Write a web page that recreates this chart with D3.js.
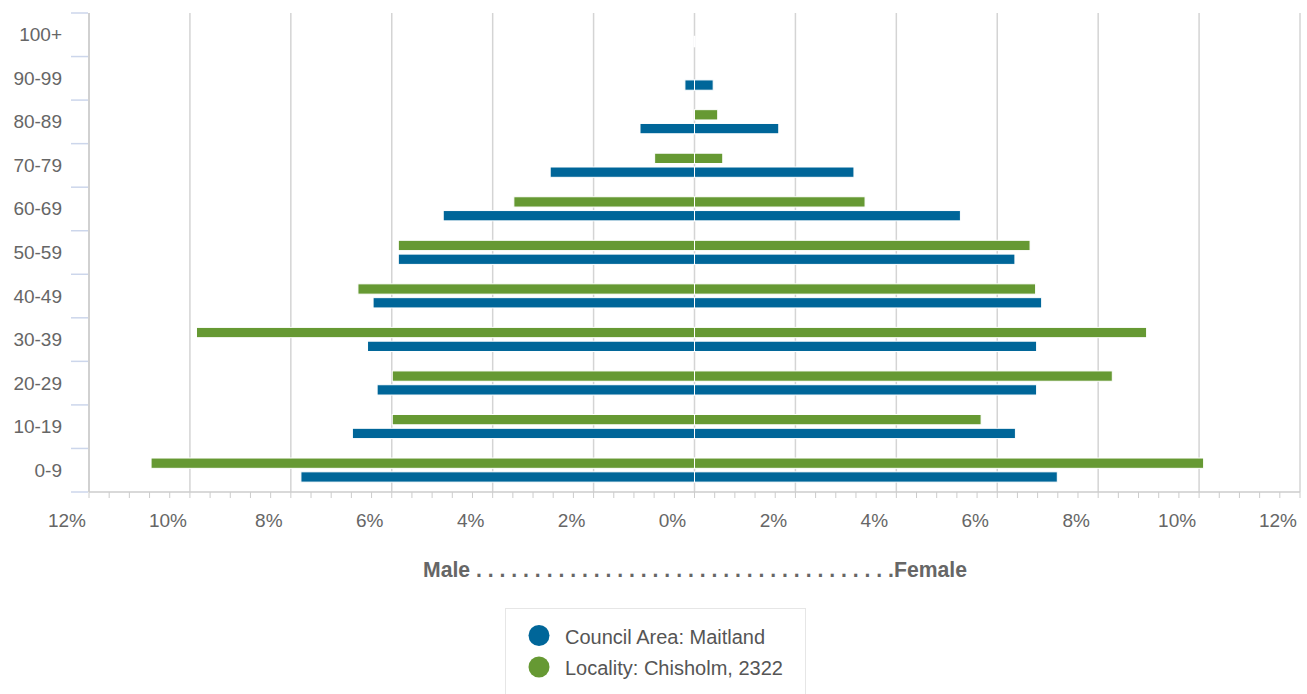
<!DOCTYPE html>
<html>
<head>
<meta charset="utf-8">
<script src="https://cdn.jsdelivr.net/npm/d3@7/dist/d3.min.js"></script>
<style>
  html, body { margin: 0; padding: 0; background: #fff; }
  svg { display: block; font-family: "Liberation Sans", Arial, Helvetica, sans-serif; }
</style>
</head>
<body>
<svg id="chart" width="1307" height="694"></svg>
<script>
// ---- data (percent of population) ----
const categories = ["0-9", "10-19", "20-29", "30-39", "40-49", "50-59", "60-69", "70-79", "80-89", "90-99", "100+"];
const maitlandMale    = [7.80, 6.78, 6.29, 6.48, 6.37, 5.87, 4.98, 2.86, 1.08, 0.19, 0.01];
const maitlandFemale  = [7.19, 6.36, 6.78, 6.78, 6.88, 6.35, 5.27, 3.16, 1.67, 0.37, 0.01];
const chisholmMale    = [10.77, 5.99, 5.99, 9.87, 6.67, 5.87, 3.58, 0.79, 0, 0, 0];
const chisholmFemale  = [10.09, 5.68, 8.28, 8.96, 6.76, 6.65, 3.38, 0.56, 0.46, 0, 0];
const xTicks = [-12, -10, -8, -6, -4, -2, 0, 2, 4, 6, 8, 10, 12];
const seriesNames = ["Council Area: Maitland", "Locality: Chisholm, 2322"];
const seriesColors = ["#006699", "#669933"];

const svg = d3.select("#chart");
const pLeft = 89, pRight = 1300, pTop = 13, pBottom = 492;

const x = d3.scaleLinear().domain([-12, 12]).range([pLeft, pRight]);
const y = d3.scaleBand().domain(categories.slice().reverse()).range([pTop, pBottom]);
const bw = y.bandwidth();

// gridlines
svg.append("g").selectAll("line").data(xTicks).join("line")
  .attr("x1", d => x(d)).attr("x2", d => x(d))
  .attr("y1", pTop).attr("y2", pBottom)
  .attr("stroke", "#d4d4d4").attr("stroke-width", 1.5);

// bottom axis line + minor ticks
const minor = d3.range(-12, 12.001, 0.4);
svg.append("g").selectAll("line").data(minor).join("line")
  .attr("x1", d => x(d)).attr("x2", d => x(d))
  .attr("y1", pBottom).attr("y2", pBottom + 6)
  .attr("stroke", "#cccccc").attr("stroke-width", 1);
svg.append("line").attr("x1", pLeft).attr("x2", pRight).attr("y1", pBottom).attr("y2", pBottom)
  .attr("stroke", "#cccccc").attr("stroke-width", 1.5);

// left axis line
svg.append("line").attr("x1", pLeft).attr("x2", pLeft).attr("y1", pTop).attr("y2", pBottom)
  .attr("stroke", "#cccccc").attr("stroke-width", 1.5);

// category ticks (band boundaries)
const bounds = categories.map(c => y(c)).concat([pBottom]);
svg.append("g").selectAll("line").data(bounds).join("line")
  .attr("x1", 71).attr("x2", pLeft - 1)
  .attr("y1", d => d).attr("y2", d => d)
  .attr("stroke", "#ccd6eb").attr("stroke-width", 1.5);

// category labels
svg.append("g").selectAll("text").data(categories).join("text")
  .attr("x", 62).attr("y", d => y(d) + bw / 2)
  .attr("dy", "0.34em")
  .attr("text-anchor", "end")
  .attr("font-size", 19).attr("fill", "#666")
  .text(d => d);

// x tick labels
svg.append("g").selectAll("text").data(xTicks).join("text")
  .attr("x", d => x(d) - 22).attr("y", 527)
  .attr("text-anchor", "middle")
  .attr("font-size", 19).attr("fill", "#666")
  .text(d => Math.abs(d) + "%");

// bars
function drawBars(vals, sign, color, off) {
  const data = vals.map((v, i) => ({ c: categories[i], v })).filter(d => d.v > 0);
  svg.append("g").selectAll("rect").data(data).join("rect")
    .attr("x", d => sign < 0 ? x(-d.v) : x(0))
    .attr("width", d => Math.abs(x(d.v) - x(0)))
    .attr("y", d => y(d.c) + bw / 2 + off)
    .attr("height", 10.3)
    .attr("fill", color)
    .attr("stroke", "#fff").attr("stroke-width", 1);
}
drawBars(chisholmMale, -1, seriesColors[1], -12.2);
drawBars(chisholmFemale, 1, seriesColors[1], -12.2);
drawBars(maitlandMale, -1, seriesColors[0], 1.6);
drawBars(maitlandFemale, 1, seriesColors[0], 1.6);

// axis title
svg.append("text")
  .attr("x", 423).attr("y", 577)
  .attr("font-size", 21.2).attr("font-weight", "bold").attr("fill", "#666")
  .text("Male" + " .".repeat(36) + "Female");

// legend
svg.append("rect").attr("x", 505.5).attr("y", 608.5).attr("width", 300).attr("height", 110)
  .attr("fill", "#fff").attr("stroke", "#e6e6e6").attr("stroke-width", 1);
const lg = svg.append("g").selectAll("g").data(seriesNames).join("g")
  .attr("transform", (d, i) => `translate(0,${635.5 + i * 31.5})`);
lg.append("circle").attr("cx", 539).attr("cy", 0).attr("r", 10.5)
  .attr("fill", (d, i) => seriesColors[i]);
lg.append("text").attr("x", 565).attr("y", 8)
  .attr("font-size", 20).attr("fill", "#555")
  .text(d => d);
</script>
</body>
</html>
